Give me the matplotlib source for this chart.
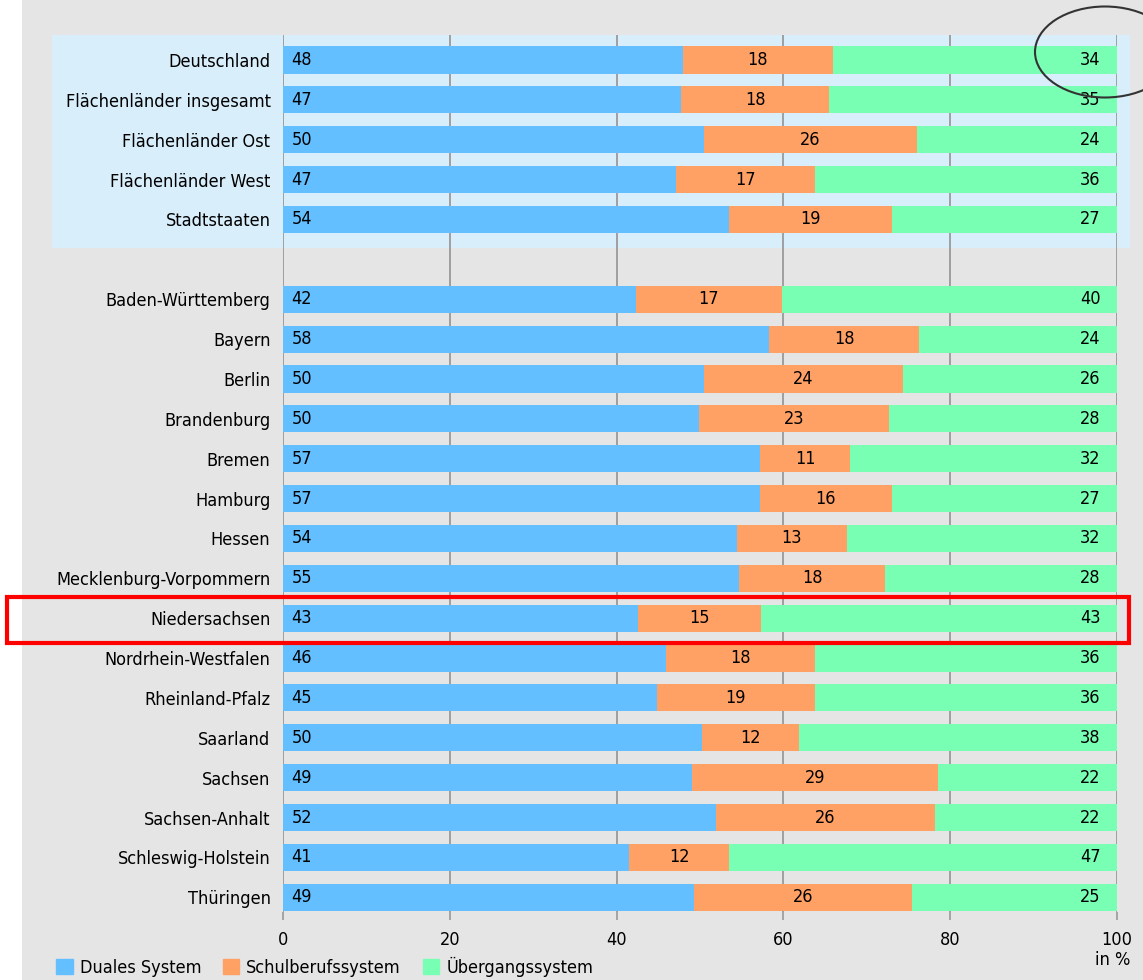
import matplotlib.pyplot as plt
import matplotlib.patches as mpatches
from matplotlib.patches import Patch

# Regions (top block = aggregates, then the 16 Länder)
regions = ['Deutschland', 'Flächenländer insgesamt', 'Flächenländer Ost',
           'Flächenländer West', 'Stadtstaaten',
           'Baden-Württemberg', 'Bayern', 'Berlin', 'Brandenburg', 'Bremen',
           'Hamburg', 'Hessen', 'Mecklenburg-Vorpommern', 'Niedersachsen',
           'Nordrhein-Westfalen', 'Rheinland-Pfalz', 'Saarland', 'Sachsen',
           'Sachsen-Anhalt', 'Schleswig-Holstein', 'Thüringen']

# printed values (in %)
duales_lbl = [48, 47, 50, 47, 54, 42, 58, 50, 50, 57, 57, 54, 55, 43, 46, 45, 50, 49, 52, 41, 49]
schul_lbl = [18, 18, 26, 17, 19, 17, 18, 24, 23, 11, 16, 13, 18, 15, 18, 19, 12, 29, 26, 12, 26]
ueber_lbl = [34, 35, 24, 36, 27, 40, 24, 26, 28, 32, 27, 32, 28, 43, 36, 36, 38, 22, 22, 47, 25]

# segment lengths as drawn (unrounded shares)
duales = [48.0, 47.7, 50.5, 47.1, 53.5, 42.3, 58.3, 50.5, 49.9, 57.2, 57.2,
          54.4, 54.7, 42.6, 45.9, 44.8, 50.2, 49.0, 51.9, 41.5, 49.3]
schul = [17.9, 17.8, 25.5, 16.7, 19.5, 17.5, 18.0, 23.8, 22.8, 10.8, 15.8,
         13.2, 17.5, 14.7, 17.9, 19.0, 11.7, 29.5, 26.3, 12.0, 26.1]
ueber = [34.3, 34.5, 24.0, 36.2, 27.0, 40.2, 23.7, 25.7, 27.3, 32.0, 27.0,
         32.4, 27.8, 42.7, 36.2, 36.2, 38.1, 21.5, 21.8, 46.5, 24.6]

xticks = [0, 20, 40, 60, 80, 100]

BLUE = '#63bfff'
ORANGE = '#ffa065'
GREEN = '#78ffb4'

plt.rcParams['font.family'] = ['DejaVu Sans']
plt.rcParams['font.stretch'] = 'condensed'

W, H = 1143, 980
fig = plt.figure(figsize=(W / 100, H / 100), dpi=100, facecolor='#e5e5e5')


def fx(px):
    return px / W


def fy(py):
    return 1 - py / H


# white strip on the left edge
fig.patches.append(mpatches.Rectangle((0, 0), fx(22), 1, transform=fig.transFigure,
                                      facecolor='white', edgecolor='none', zorder=0))
# light blue box behind the aggregate rows
fig.patches.append(mpatches.Rectangle((fx(52), fy(248)), fx(1130 - 52), fy(35) - fy(248),
                                      transform=fig.transFigure, facecolor='#d8eefb',
                                      edgecolor='none', zorder=0))

ax = fig.add_axes([fx(283), fy(912), fx(1117 - 283), fy(35) - fy(912)])
ax.set_zorder(1)
ax.patch.set_alpha(0)

ypos = [i if i < 5 else i + 1 for i in range(len(regions))]
h = 0.68

ax.barh(ypos, duales, height=h, color=BLUE, zorder=2)
ax.barh(ypos, schul, left=duales, height=h, color=ORANGE, zorder=2)
lefts = [d + s for d, s in zip(duales, schul)]
ax.barh(ypos, ueber, left=lefts, height=h, color=GREEN, zorder=2)

for y, d, s, dl, sl, ul in zip(ypos, duales, schul, duales_lbl, schul_lbl, ueber_lbl):
    ax.text(1.0, y, str(dl), ha='left', va='center', fontsize=13, zorder=3)
    ax.text(d + s / 2, y, str(sl), ha='center', va='center', fontsize=13, zorder=3)
    ax.text(98, y, str(ul), ha='right', va='center', fontsize=13, zorder=3)

ax.set_xlim(0, 100)
ax.set_ylim(21.37, -0.627)
ax.set_yticks(ypos)
ax.set_yticklabels(regions, fontsize=13)
ax.set_xticks(xticks)
ax.set_xticklabels([str(t) for t in xticks], fontsize=13)
ax.tick_params(axis='y', length=0, pad=9)
ax.tick_params(axis='x', length=6, width=1.2, color='#999999', pad=8)

for t in xticks:
    ax.axvline(t, color='#999999', lw=1.3, zorder=1)
for s in ax.spines.values():
    s.set_visible(False)

fig.text(fx(1130), fy(960), 'in %', ha='right', va='center', fontsize=13)

# highlight Niedersachsen
fig.patches.append(mpatches.Rectangle((fx(7), fy(643)), fx(1129 - 7), fy(597) - fy(643),
                                      transform=fig.transFigure, fill=False,
                                      edgecolor='#ff0000', lw=3, zorder=5))
# circle around the top-right value
fig.patches.append(mpatches.Ellipse((fx(1105), fy(52)), fx(140), fy(0) - fy(91),
                                    transform=fig.transFigure, fill=False,
                                    edgecolor='#333333', lw=1.5, zorder=5))

handles = [Patch(color=BLUE), Patch(color=ORANGE), Patch(color=GREEN)]
fig.legend(handles, ['Duales System', 'Schulberufssystem', 'Übergangssystem'],
           loc='center left', bbox_to_anchor=(fx(40), fy(967)), ncol=3, frameon=False,
           fontsize=13, handlelength=0.9, handleheight=0.9, handletextpad=0.4,
           columnspacing=1.2)

fig.savefig('out.png', dpi=100, facecolor=fig.get_facecolor())
